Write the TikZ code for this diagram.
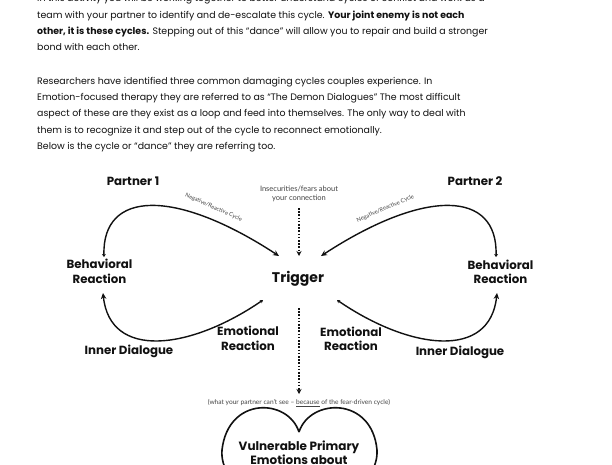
\documentclass[tikz,border=0pt]{standalone}
\usepackage{fontspec}
\setmainfont{Poppins}
\newfontfamily\smallfont{Lato}
\usetikzlibrary{arrows.meta}
\definecolor{smallgrey}{HTML}{444444}
\definecolor{ink}{HTML}{111111}
\tikzset{
  para/.style={anchor=base west, inner sep=0pt, font=\fontsize{9.4}{10}\selectfont, text=ink},
  lbl/.style={anchor=base, inner sep=0pt, font=\fontsize{11.8}{13}\selectfont\bfseries, text=ink},
  biglbl/.style={anchor=base, inner sep=0pt, font=\fontsize{14}{16}\selectfont\bfseries, text=ink},
  heartlbl/.style={anchor=base, inner sep=0pt, font=\fontsize{12}{13}\selectfont\bfseries, text=ink},
  tiny/.style={anchor=base, inner sep=0pt, font=\smallfont\fontsize{7.5}{8}\selectfont, text=smallgrey},
  tinier/.style={anchor=base, inner sep=0pt, font=\smallfont\fontsize{6.6}{7}\selectfont, text=smallgrey},
  cyclelbl/.style={anchor=base, inner sep=0pt, font=\smallfont\fontsize{5.7}{6}\selectfont, text=smallgrey},
  cyc/.style={line width=1.4pt, draw=ink, {Stealth[length=3pt,width=4pt]}-{Stealth[length=6pt,width=5.5pt]}},
  dotarrow/.style={line width=1.3pt, draw=ink, dash pattern=on 1.6pt off 1.6pt, -{Stealth[length=5pt,width=5pt]}},
  heart/.style={line width=1.6pt, draw=ink}
}
\begin{document}
\begin{tikzpicture}[x=1pt,y=-1pt]
\useasboundingbox (0,0) rectangle (612,464);
\clip (0,0) rectangle (612,464);
\fill[white] (0,0) rectangle (612,464);

% paragraph text
\node[para] (t0) at (37,1.7) {In this activity you will be working together to better understand cycles of conflict and work as a};
\node[para] (t1) at (37,18.3) {team with your partner to identify and de-escalate this cycle. \textbf{Your joint enemy is not each}};
\node[para] (t2) at (37,34.9) {\textbf{other, it is these cycles.} Stepping out of this “dance” will allow you to repair and build a stronger};
\node[para] (t3) at (37,50.9) {bond with each other.};
\node[para] (t4) at (37,84.3) {Researchers have identified three common damaging cycles couples experience. In};
\node[para] (t5) at (37,100.9) {Emotion-focused therapy they are referred to as “The Demon Dialogues” The most difficult};
\node[para] (t6) at (37,116.9) {aspect of these are they exist as a loop and feed into themselves. The only way to deal with};
\node[para] (t7) at (37,133.6) {them is to recognize it and step out of the cycle to reconnect emotionally.};
\node[para] (t8) at (37,149.3) {Below is the cycle or “dance” they are referring too.};

% diagram labels
\node[lbl] (p1) at (133,185.7) {Partner 1};
\node[lbl] (p2) at (475,185.7) {Partner 2};
\node[tiny] (ins1) at (299,191) {Insecurities/fears about};
\node[tiny] (ins2) at (299,200) {your connection};
\node[biglbl] (trig) at (298,282.3) {Trigger};

\node[lbl] (bl1) at (99.5,268.3) {Behavioral};
\node[lbl] (bl2) at (99.5,283.3) {Reaction};
\node[lbl] (br1) at (500.5,269) {Behavioral};
\node[lbl] (br2) at (500.5,283.5) {Reaction};
\node[lbl] (il) at (129,354) {Inner Dialogue};
\node[lbl] (ir) at (460,355) {Inner Dialogue};
\node[lbl] (el1) at (248,335.8) {Emotional};
\node[lbl] (el2) at (248,350) {Reaction};
\node[lbl] (er1) at (351,336.5) {Emotional};
\node[lbl] (er2) at (351,350.5) {Reaction};

\node[cyclelbl, rotate=-24] (cl) at (213,209) {Negative/Reactive Cycle};
\node[cyclelbl, rotate=23] (cr) at (386,210) {Negative/Reactive Cycle};

\node[tinier] (see) at (299,404.5) {(what your partner can’t see – \underline{because} of the fear-driven cycle)};

% cycle endpoints
\coordinate (a1) at (104,257);
\coordinate (a2) at (279,256);
\coordinate (b1) at (263,300);
\coordinate (b2) at (103,293);
\coordinate (c1) at (496,257);
\coordinate (c2) at (321,256);
\coordinate (d1) at (337,300);
\coordinate (d2) at (497,293);

\draw[cyc] (a1) .. controls (102,190) and (175,188) .. (a2);
\draw[cyc] (b1) .. controls (190,350) and (110,360) .. (b2);
\draw[cyc] (c1) .. controls (498,190) and (425,188) .. (c2);
\draw[cyc] (d1) .. controls (410,350) and (490,360) .. (d2);

% dotted arrows
\coordinate (v1) at (299,208);
\coordinate (v2) at (299,256);
\coordinate (v3) at (299,308);
\coordinate (v4) at (299,394);
\draw[dotarrow] (v1) -- (v2);
\draw[dotarrow] (v3) -- (v4);

% heart
\draw[heart] (299,432) .. controls (288,398) and (228,396) .. (222,450)
  .. controls (219,485) and (270,515) .. (299,545)
  .. controls (328,515) and (379,485) .. (377,450)
  .. controls (372,396) and (310,398) .. (299,432);
\node[heartlbl] (h1) at (299,450) {Vulnerable Primary};
\node[heartlbl] (h2) at (299,464) {Emotions about};
\end{tikzpicture}
\end{document}
